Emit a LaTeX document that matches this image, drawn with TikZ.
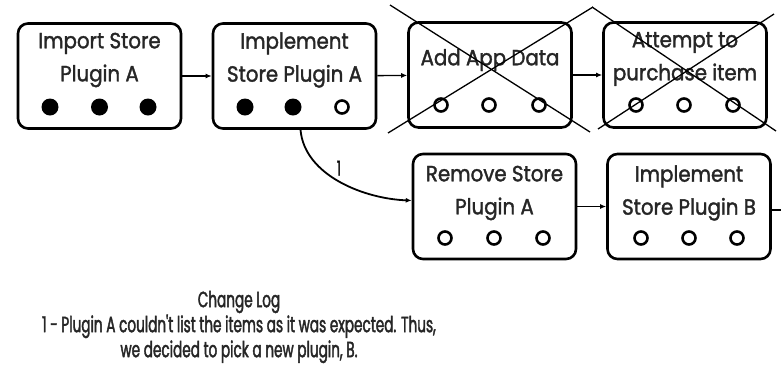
\documentclass[tikz,border=0pt]{standalone}
\usepackage{fontspec}
\setmainfont{Poppins}
\newfontfamily\boxfont{Poppins}[FakeStretch=0.9, FakeBold=1.6]
\newfontfamily\logfont{Poppins}[FakeStretch=0.62, FakeBold=1.8]
\usetikzlibrary{arrows.meta}
\begin{document}
\begin{tikzpicture}[x=1pt,y=-1pt,
  stepbox/.style={draw, line width=2.6pt, rounded corners=10pt, minimum width=163pt, minimum height=105pt, inner sep=0pt},
  boxtext/.style={align=center, font=\boxfont\fontsize{22}{33}\selectfont, text=black!85, inner sep=0pt},
  done/.style={circle, fill=black, minimum size=17pt, inner sep=0pt},
  todo/.style={circle, draw, line width=2.6pt, minimum size=13pt, inner sep=0pt},
  flow/.style={line width=1.4pt, -{Latex[length=6pt,width=5pt]}},
  strike/.style={line width=1.3pt},
]
\useasboundingbox (0,0) rectangle (781,376);

% top row
\node[stepbox] (b1) at (99.5,76) {};
\node[stepbox] (b2) at (294.5,76) {};
\node[stepbox] (b3) at (490,75) {};
\node[stepbox] (b4) at (685,75) {};
% bottom row
\node[stepbox] (b5) at (494.5,206.5) {};
\node[stepbox] (b6) at (689,206.5) {};

% labels
\node[boxtext] (t1) at (99.5,60) {Import Store\\Plugin A};
\node[boxtext] (t2) at (294.5,60) {Implement\\Store Plugin A};
\node[boxtext] (t3) at (490,60) {Add App Data};
\node[boxtext] (t4) at (685,59) {Attempt to\\purchase item};
\node[boxtext] (t5) at (494.5,193) {Remove Store\\Plugin A};
\node[boxtext] (t6) at (689,193) {Implement\\Store Plugin B};

% progress dots
\node[done] (d11) at (50,107) {};
\node[done] (d12) at (99.5,107) {};
\node[done] (d13) at (148,107) {};
\node[done] (d21) at (245,107) {};
\node[done] (d22) at (293,107) {};
\node[todo] (d23) at (342,107) {};
\node[todo] (d31) at (441,105) {};
\node[todo] (d32) at (489,105) {};
\node[todo] (d33) at (539,105) {};
\node[todo] (d41) at (636,105) {};
\node[todo] (d42) at (684,105) {};
\node[todo] (d43) at (733,105) {};
\node[todo] (d51) at (445,238) {};
\node[todo] (d52) at (494,238) {};
\node[todo] (d53) at (543,238) {};
\node[todo] (d61) at (641,238) {};
\node[todo] (d62) at (689,238) {};
\node[todo] (d63) at (737,238) {};

% crossed-out steps
\coordinate (x3a) at (390,5);
\coordinate (x3b) at (590,132);
\coordinate (x3c) at (593,7);
\coordinate (x3d) at (388,133);
\coordinate (x4a) at (592,7);
\coordinate (x4b) at (776,131);
\coordinate (x4c) at (774,14);
\coordinate (x4d) at (598,129);
\draw[strike] (x3a) -- (x3b);
\draw[strike] (x3c) -- (x3d);
\draw[strike] (x4a) -- (x4b);
\draw[strike] (x4c) -- (x4d);

% connectors
\draw[flow] (b1) -- (b2);
\draw[flow] (b2) -- (b3);
\draw[flow] (b3) -- (b4);
\draw[flow] (b5) -- (b6);
\coordinate (out6) at (785,210);
\draw[line width=1.4pt] (b6.east |- out6) -- (out6);
\draw[flow, line width=1.8pt] ([xshift=6pt]b2.south) to[out=-85, in=178, looseness=0.9]
  node[pos=0.45, above right, inner sep=2pt, font=\logfont\fontsize{20}{20}\selectfont] (l1) {1} ([yshift=6pt]b5.west);

% change log
\node[align=center, font=\logfont\fontsize{22}{25}\selectfont, text=black!85, inner sep=0pt] (log) at (239,327)
  {Change Log\\1 - Plugin A couldn't list the items as it was expected. Thus,\\we decided to pick a new plugin, B.};
\end{tikzpicture}
\end{document}
